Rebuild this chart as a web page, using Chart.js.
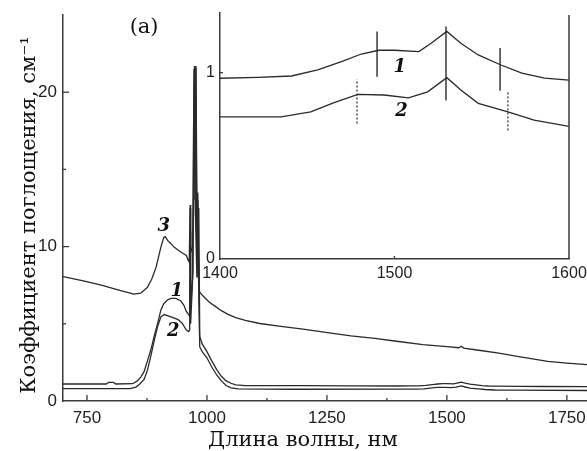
<!DOCTYPE html>
<html><head><meta charset="utf-8">
<script src="https://cdn.jsdelivr.net/npm/chart.js@4"></script>
<style>
html,body{margin:0;padding:0;background:#fff;}
#wrap{position:relative;width:587px;height:451px;overflow:hidden;background:#fff;}
#main{position:absolute;left:0;top:0;}
#inset{position:absolute;left:200px;top:0;}
</style></head><body>
<div id="wrap"><canvas id="main" width="587" height="451"></canvas><canvas id="inset" width="387" height="290"></canvas></div>
<script>
// ---------- data (wavelength in nm, absorption in cm^-1) ----------
const wl1 = [700,790,795,805,810,845,855,862,869,876,883,890,897,904,910,918,925,935,945,952,957,962,964,965,966,970,972,974,975,977,979,981,983,985,990,1000,1010,1020,1030,1040,1050,1060,1080,1200,1300,1400,1422,1441,1456,1470,1481,1491,1500,1514,1521,1530,1538,1548,1561,1573,1586,1600,1650,1700,1792];
const abs1 = [1.1,1.1,1.2,1.2,1.1,1.12,1.3,1.55,1.9,2.6,3.3,4.2,5.0,5.9,6.3,6.55,6.65,6.65,6.5,6.2,5.8,5.6,5.5,12.5,6.0,8.0,17.5,21.7,13.0,21.6,13.5,8.0,12.5,4.2,3.7,3.2,2.6,2.05,1.6,1.3,1.15,1.05,1.0,1.0,0.98,0.97,0.975,0.982,1.015,1.06,1.10,1.12,1.12,1.113,1.158,1.221,1.158,1.095,1.041,0.997,0.97,0.96,0.95,0.94,0.93];

const wl2 = [700,840,852,860,869,876,883,890,897,904,911,925,939,948,957,962,964,965,966,971,973,975,977,979,981,983,985,990,1000,1010,1020,1030,1040,1050,1065,1180,1400,1435,1452,1465,1479,1494,1508,1519,1530,1538,1548,1565,1580,1600,1650,1792];
const abs2 = [0.8,0.8,0.9,1.1,1.4,2.0,2.9,3.9,4.8,5.45,5.6,5.45,5.29,5.05,4.6,4.5,4.6,11.0,5.0,8.5,21.5,15.5,21.7,9.0,13.5,6.5,3.5,3.2,2.8,2.2,1.7,1.3,1.0,0.85,0.78,0.76,0.763,0.763,0.79,0.838,0.883,0.88,0.865,0.897,0.973,0.907,0.835,0.79,0.745,0.712,0.7,0.68];

const wl3 = [700,740,780,820,848,862,876,885,894,904,910,913,918,925,932,939,948,957,961,963,965,966,970,972,974,976,979,981,983,986,995,1005,1016,1030,1044,1060,1080,1110,1150,1200,1255,1300,1350,1395,1450,1500,1525,1530,1535,1570,1605,1650,1710,1750,1792];
const abs3 = [8.06,7.8,7.5,7.15,6.92,6.98,7.36,7.9,8.67,9.97,10.6,10.65,10.4,10.19,9.95,9.8,9.6,9.43,9.1,9.0,12.7,9.6,10.0,12.3,20.5,12.0,8.0,13.0,7.2,7.0,6.7,6.4,6.16,5.85,5.61,5.4,5.22,5.02,4.85,4.65,4.41,4.22,4.05,3.87,3.65,3.52,3.45,3.55,3.43,3.27,3.11,2.87,2.57,2.45,2.35];

// peak-position markers in the inset: wavelength, low end, high end
const markers1 = [[1490,0.978,1.221],[1529.5,0.85,1.247],[1560.5,0.903,1.132]];
const markers2 = [[1478.5,0.727,0.964],[1565,0.69,0.897]];

// tick values
const mainXTicks = [750,1000,1250,1500,1750];
const mainXMinor = [875,1125,1375,1625];
const mainYTicks = [0,10,20];
const mainYMinor = [5,15];
const insetXTicks = [1400,1500,1600];
const insetYTicks = [0,1];

// texts
const xTitle = 'Длина волны, нм';
const yTitle = 'Коэффициент поглощения, см⁻¹';
const mainNotes = [['3',910,11.3,'i'],['1',937,7.1,'i'],['2',930,4.5,'i'],['(a)',869,24.2,'n']];
const insetNotes = [['1',1503,1.03,'i'],['2',1504,0.79,'i']];

// ---------- drawing ----------
const INK = '#2a2a2a';
const AXIS = '#3a3a3a';
const TICKFONT = '"Liberation Sans Narrow", "Liberation Sans", Arial, sans-serif';
const pts = (xs, ys) => xs.map((x, i) => ({x, y: ys[i]}));
const lineDs = (xs, ys) => ({data: pts(xs, ys), borderColor: INK, borderWidth: 1.3, pointRadius: 0, tension: 0, fill: false});

const decor = {
  id: 'decor',
  afterDatasetsDraw(chart, args, o) {
    const ctx = chart.ctx, xs = chart.scales.x, ys = chart.scales.y;
    ctx.save();
    ctx.strokeStyle = AXIS; ctx.lineWidth = 1.3;
    const seg = (a, b, c, d) => { ctx.beginPath(); ctx.moveTo(a, b); ctx.lineTo(c, d); ctx.stroke(); };
    (o.xMajor || []).forEach(v => { const p = xs.getPixelForValue(v); seg(p, ys.bottom, p, ys.bottom - o.major); });
    (o.xMinor || []).forEach(v => { const p = xs.getPixelForValue(v); seg(p, ys.bottom, p, ys.bottom - o.minor); });
    (o.yMajor || []).forEach(v => { const p = ys.getPixelForValue(v); seg(xs.left, p, xs.left + o.major, p); });
    (o.yMinor || []).forEach(v => { const p = ys.getPixelForValue(v); seg(xs.left, p, xs.left + o.minor, p); });
    if (o.rightFrame) { ctx.lineWidth = 1.5; const r = xs.getPixelForValue(xs.max); seg(r, ys.bottom, r, chart.chartArea.top + 2); }
    ctx.fillStyle = '#111'; ctx.textAlign = 'center'; ctx.textBaseline = 'middle';
    (o.notes || []).forEach(([t, x, y, s]) => {
      ctx.font = s === 'i' ? 'italic bold 18px "DejaVu Serif"' : '21px "DejaVu Serif"';
      ctx.fillText(t, xs.getPixelForValue(x), ys.getPixelForValue(y));
    });
    if (o.titles) {
      ctx.font = '21px "DejaVu Serif"';
      ctx.textBaseline = 'alphabetic';
      ctx.fillText(xTitle, 303, 446);
      ctx.translate(35, 215); ctx.rotate(-Math.PI / 2);
      ctx.fillText(yTitle, 0, 0);
    }
    ctx.restore();
  }
};

const fitW = w => s => { s.width = w; s.paddingTop = 0; s.paddingBottom = 0; };
const fitH = h => s => { s.height = h; s.paddingLeft = 0; s.paddingRight = 0; };
const setTicks = arr => s => { s.ticks = arr.map(v => ({value: v})); };
const plain = v => String(v);

new Chart(document.getElementById('main'), {
  type: 'line',
  data: {datasets: [lineDs(wl3, abs3), lineDs(wl1, abs1), lineDs(wl2, abs2)]},
  options: {
    responsive: false, animation: false, devicePixelRatio: 1,
    layout: {padding: {top: 15, right: 0, left: 0, bottom: 0}},
    plugins: {legend: {display: false}, tooltip: {enabled: false},
      decor: {xMajor: mainXTicks, xMinor: mainXMinor, yMajor: mainYTicks.filter(v => v > 0), yMinor: mainYMinor, major: 6, minor: 3, notes: mainNotes, titles: true}},
    scales: {
      x: {type: 'linear', min: 700, max: 1792, grid: {display: false, drawTicks: false},
        border: {display: true, color: AXIS, width: 1.5},
        afterBuildTicks: setTicks(mainXTicks), afterFit: fitH(50),
        ticks: {color: '#222', padding: 7, callback: plain, font: {family: TICKFONT, size: 17}}},
      y: {type: 'linear', min: 0, max: 25, grid: {display: false, drawTicks: false},
        border: {display: true, color: AXIS, width: 1.5},
        afterBuildTicks: setTicks(mainYTicks), afterFit: fitW(63),
        ticks: {color: '#222', padding: 6, callback: plain, font: {family: TICKFONT, size: 17}}}
    }
  },
  plugins: [decor]
});

const insetSets = [lineDs(wl1, abs1), lineDs(wl2, abs2)];
markers1.forEach(([x, a, b]) => insetSets.push({data: [{x, y: a}, {x, y: b}], borderColor: INK, borderWidth: 1.4, pointRadius: 0}));
markers2.forEach(([x, a, b]) => insetSets.push({data: [{x, y: a}, {x, y: b}], borderColor: INK, borderWidth: 1.2, borderDash: [2, 2], pointRadius: 0}));

new Chart(document.getElementById('inset'), {
  type: 'line',
  data: {datasets: insetSets},
  options: {
    responsive: false, animation: false, devicePixelRatio: 1,
    layout: {padding: {top: 13, right: 18, left: 0, bottom: 0}},
    plugins: {legend: {display: false}, tooltip: {enabled: false},
      decor: {xMajor: [1500], yMajor: [1], major: 3, minor: 2, rightFrame: true, notes: insetNotes}},
    scales: {
      x: {type: 'linear', min: 1400, max: 1600, grid: {display: false, drawTicks: false},
        border: {display: true, color: AXIS, width: 1.5},
        afterBuildTicks: setTicks(insetXTicks), afterFit: fitH(31),
        ticks: {color: '#222', padding: 5, callback: plain, font: {family: TICKFONT, size: 16}}},
      y: {type: 'linear', min: 0, max: 1.32, grid: {display: false, drawTicks: false},
        border: {display: true, color: AXIS, width: 1.5},
        afterBuildTicks: setTicks(insetYTicks), afterFit: fitW(20),
        ticks: {color: '#222', padding: 5, callback: plain, font: {family: TICKFONT, size: 16}}}
    }
  },
  plugins: [decor]
});
</script>
</body></html>
